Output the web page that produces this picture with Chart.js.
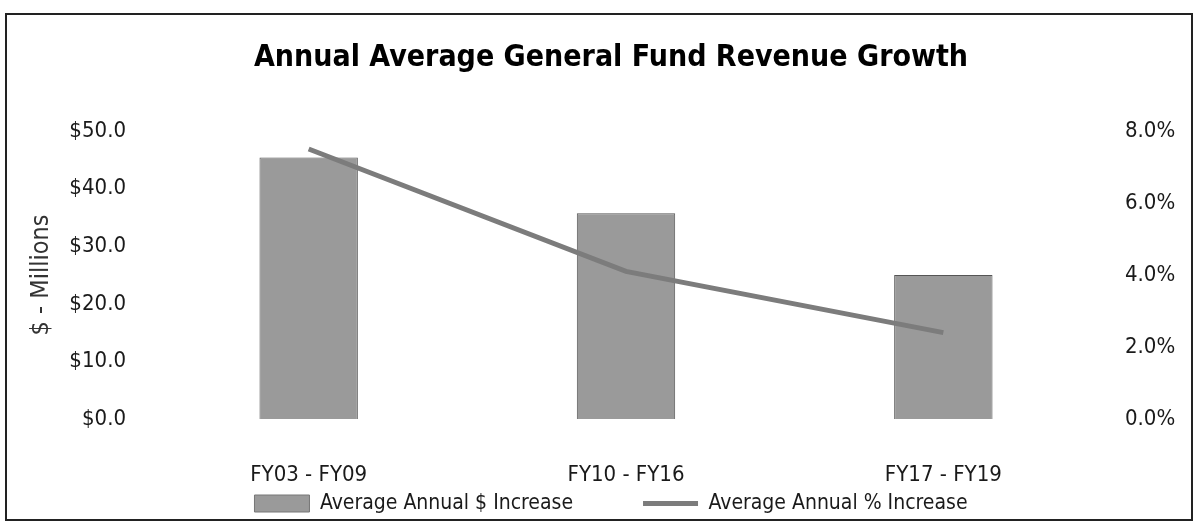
<!DOCTYPE html>
<html>
<head>
<meta charset="utf-8">
<script src="https://cdn.jsdelivr.net/npm/chart.js@4.4.1/dist/chart.umd.min.js"></script>
<style>
  html, body { margin: 0; padding: 0; background: #fff; }
  #wrap { position: relative; width: 1200px; height: 529px; }
  #frame { position: absolute; left: 5px; top: 13px; width: 1188px; height: 508px; border: 2px solid #222; box-sizing: border-box; }
  canvas { position: absolute; left: 0; top: 0; }
</style>
</head>
<body>
<div id="wrap">
  <div id="frame"></div>
  <canvas id="chart" width="1200" height="529"></canvas>
</div>
<script>
// data
const periods = ['FY03 - FY09', 'FY10 - FY16', 'FY17 - FY19'];
const dollarIncrease = [45.4, 35.7, 25.0];   // $ millions
const pctIncrease = [7.5, 4.1, 2.4];         // percent
const dollarTicks = [0, 10, 20, 30, 40, 50];
const pctTicks = [0, 2, 4, 6, 8];

const FONT = "'Liberation Sans Narrow', 'DejaVu Sans Condensed', sans-serif";
const TEXT = '#1a1a1a';
const BAR_GRAY = '#9a9a9a';
const LINE_GRAY = '#7c7c7c';

const ctx = document.getElementById('chart').getContext('2d');

new Chart(ctx, {
  data: {
    labels: periods,
    datasets: [
      {
        type: 'bar',
        label: 'Average Annual $ Increase',
        data: dollarIncrease,
        yAxisID: 'y',
        backgroundColor: BAR_GRAY,
        borderColor: '#555',
        borderWidth: 1,
        barPercentage: 0.31,
        categoryPercentage: 1,
        order: 2
      },
      {
        type: 'line',
        label: 'Average Annual % Increase',
        data: pctIncrease,
        yAxisID: 'y1',
        borderColor: LINE_GRAY,
        borderWidth: 5,
        pointRadius: 0,
        tension: 0,
        fill: false,
        order: 1
      }
    ]
  },
  options: {
    responsive: false,
    animation: false,
    layout: { padding: { left: 22, right: 0, top: 0, bottom: 5 } },
    plugins: {
      title: {
        display: true,
        text: 'Annual Average General Fund Revenue Growth',
        color: '#000',
        font: { family: FONT, size: 30, weight: 'bold' },
        padding: { top: 40, bottom: 55 }
      },
      legend: {
        position: 'bottom',
        labels: {
          color: TEXT,
          font: { family: FONT, size: 21 },
          usePointStyle: true,
          pointStyleWidth: 55,
          boxHeight: 17,
          padding: 10,
          generateLabels: (chart) => {
            const items = Chart.defaults.plugins.legend.labels.generateLabels(chart);
            items.sort((a, b) => a.datasetIndex - b.datasetIndex);
            items.forEach(item => {
              if (item.datasetIndex === 0) {
                item.pointStyle = 'rect';
                item.fillStyle = BAR_GRAY;
                item.strokeStyle = '#777';
                item.lineWidth = 1;
                item.text = item.text + '          ';
              } else {
                item.pointStyle = 'line';
                item.strokeStyle = LINE_GRAY;
                item.lineWidth = 5;
              }
            });
            return items;
          }
        }
      },
      tooltip: { enabled: false }
    },
    scales: {
      x: {
        offset: true,
        grid: { display: false },
        border: { display: false },
        ticks: { color: TEXT, font: { family: FONT, size: 22 }, padding: 35, maxRotation: 0 },
        afterFit: (s) => { s.height = 64; }
      },
      y: {
        position: 'left',
        min: 0,
        max: 50,
        grid: { display: false, drawTicks: false },
        border: { display: false },
        afterBuildTicks: (s) => { s.ticks = dollarTicks.map(v => ({ value: v })); },
        ticks: {
          color: TEXT,
          font: { family: FONT, size: 22 },
          padding: 24,
          callback: (v) => '$' + Number(v).toFixed(1)
        },
        title: {
          display: true,
          text: '$ - Millions',
          color: '#333',
          font: { family: FONT, size: 25 },
          padding: { top: 4, bottom: 0 }
        },
        afterFit: (s) => { s.width = 128; }
      },
      y1: {
        position: 'right',
        min: 0,
        max: 8,
        grid: { display: false, drawTicks: false },
        border: { display: false },
        afterBuildTicks: (s) => { s.ticks = pctTicks.map(v => ({ value: v })); },
        ticks: {
          color: TEXT,
          font: { family: FONT, size: 22 },
          padding: 23,
          callback: (v) => Number(v).toFixed(1) + '%'
        },
        afterFit: (s) => { s.width = 98; }
      }
    }
  }
});
</script>
</body>
</html>
